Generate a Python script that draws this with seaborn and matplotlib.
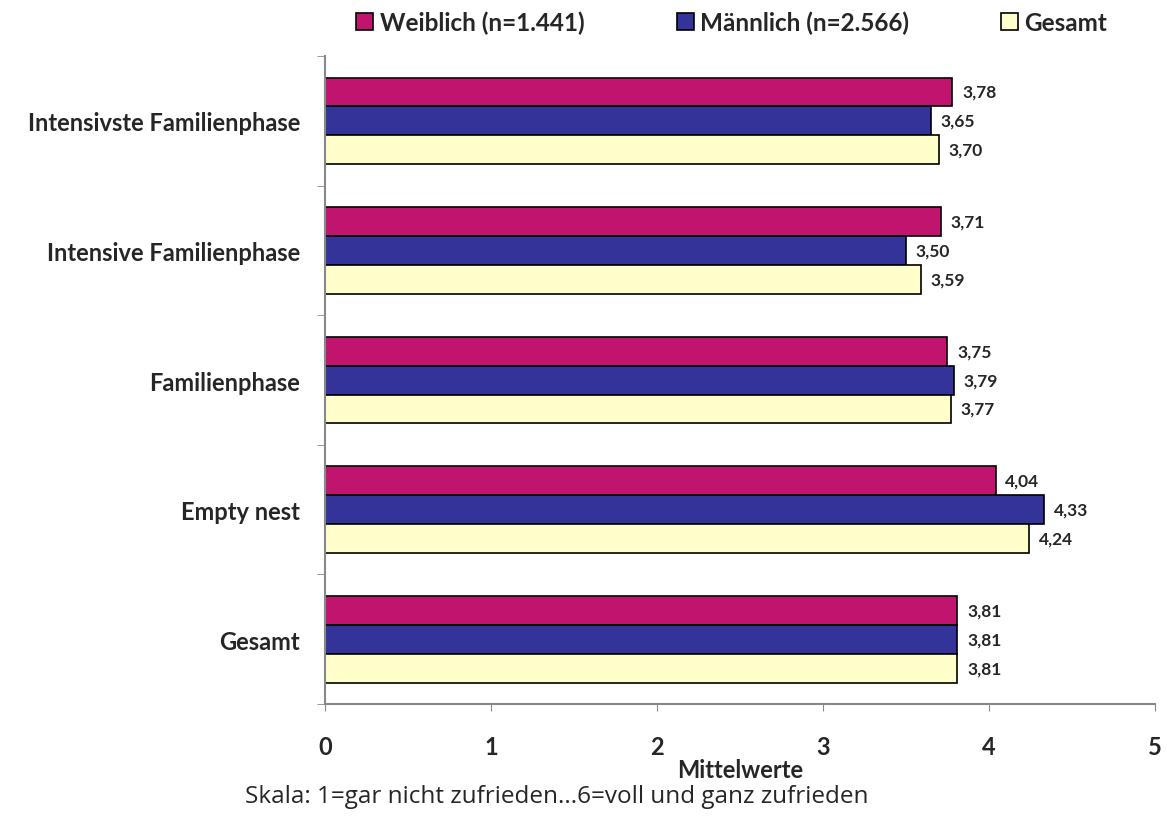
import pandas as pd
import numpy as np
import matplotlib
matplotlib.use("Agg")
import matplotlib.pyplot as plt
import seaborn as sns
from matplotlib.ticker import FixedLocator

# data
categories = ["Intensivste Familienphase", "Intensive Familienphase", "Familienphase",
              "Empty nest", "Gesamt"]
series = ["Weiblich (n=1.441)", "Männlich (n=2.566)", "Gesamt"]
weiblich = [3.78, 3.71, 3.75, 4.04, 3.81]
maennlich = [3.65, 3.50, 3.79, 4.33, 3.81]
gesamt = [3.70, 3.59, 3.77, 4.24, 3.81]
colors = ["#C0146E", "#333399", "#FFFFCC"]

df = pd.DataFrame({
    "Phase": categories * 3,
    "Gruppe": [series[0]] * 5 + [series[1]] * 5 + [series[2]] * 5,
    "Wert": weiblich + maennlich + gesamt,
})

sns.set_style("white")
plt.rcParams["font.family"] = ["Lato", "DejaVu Sans"]

fig = plt.figure(figsize=(11.67, 8.28), dpi=100)
ax = fig.add_axes([0.2785, 0.1486, 0.9897 - 0.2785, 0.931 - 0.1486])

sns.barplot(data=df, y="Phase", x="Wert", hue="Gruppe", order=categories,
            hue_order=series, palette=colors, orient="h", width=0.67,
            edgecolor="black", linewidth=1.2, saturation=1, ax=ax, legend=True)

# value labels
for cont in ax.containers:
    ax.bar_label(cont, labels=[f"{v:.2f}".replace(".", ",") for v in cont.datavalues],
                 padding=7, fontsize=12.5, fontweight="bold")

ax.set_xlim(0, 5)
ax.set_ylim(len(categories) - 0.5, -0.5)
ax.set_xticks(range(6))
ax.set_xticklabels([str(i) for i in range(6)], fontsize=17, fontweight="bold")
ax.tick_params(axis="x", length=5, color="#888888", direction="out", pad=17, bottom=True)
ax.set_yticks(range(len(categories)))
ax.set_yticklabels(categories, fontsize=17, fontweight="bold")
ax.tick_params(axis="y", length=0, pad=18)
ax.yaxis.set_minor_locator(FixedLocator(np.arange(-0.5, len(categories), 1.0)))
ax.tick_params(axis="y", which="minor", length=6, color="#888888", left=True)
ax.set_ylabel("")
ax.set_xlabel("Mittelwerte", fontsize=17, fontweight="bold", labelpad=0)

for s in ["top", "right"]:
    ax.spines[s].set_visible(False)
for s in ["left", "bottom"]:
    ax.spines[s].set_color("#888888")
    ax.spines[s].set_linewidth(1.5)

handles, labels = ax.get_legend_handles_labels()
ax.legend(handles, labels, loc="center", bbox_to_anchor=(0.49, 1.052), ncol=3,
          frameon=False, handlelength=0.7, handleheight=0.7, handletextpad=0.25,
          columnspacing=3.8, prop={"weight": "bold", "size": 17.5})

fig.text(0.477, 0.038, "Skala: 1=gar nicht zufrieden...6=voll und ganz zufrieden",
         ha="center", va="center", fontsize=17.5, family=["Open Sans", "DejaVu Sans"])

fig.savefig("out.png", dpi=100)
plt.close(fig)
